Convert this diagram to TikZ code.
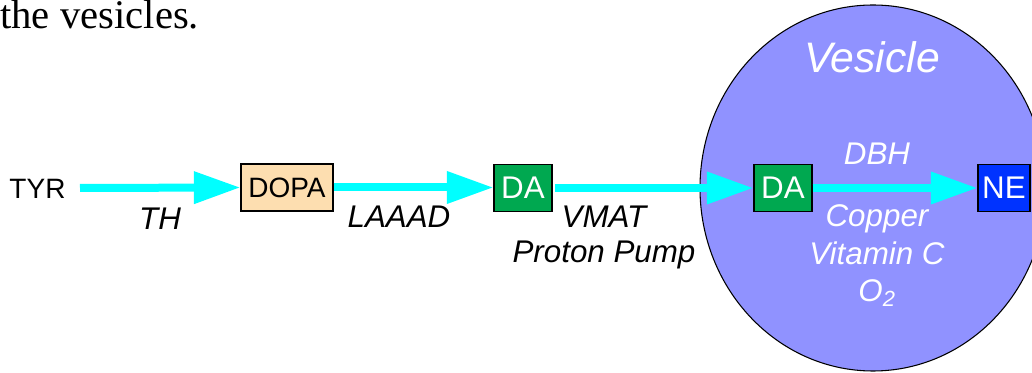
\documentclass[tikz,border=0pt]{standalone}
\usepackage{fontspec}
\setmainfont{Liberation Sans}
\newfontfamily\serifface{Liberation Serif}
\usetikzlibrary{arrows.meta,shapes.geometric}
\definecolor{arrowcyan}{RGB}{0,255,255}
\definecolor{vesfill}{RGB}{144,146,255}
\definecolor{dagreen}{RGB}{0,168,80}
\definecolor{neblue}{RGB}{0,51,255}
\definecolor{dopafill}{RGB}{253,222,176}
\tikzset{
  flow/.style={draw=arrowcyan, line width=6pt,
    -{Triangle[length=35pt,width=23pt]}, arrowcyan},
  box/.style={draw=black, line width=0.8pt, minimum height=35.25pt,
    inner sep=0pt, font=\fontsize{21}{25}\selectfont},
  bigbox/.style={box, text=white, font=\fontsize{23.5}{27}\selectfont},
  plain/.style={font=\fontsize{21}{25}\selectfont, inner sep=0pt},
  lbl/.style={font=\fontsize{23.5}{27}\selectfont\itshape, inner sep=0pt, anchor=base},
  wlbl/.style={lbl, text=white},
}
\begin{document}
\begin{tikzpicture}[x=0.75pt,y=-0.75pt]
\useasboundingbox (0,0) rectangle (1032,373);
% vesicle
\node[draw=black, line width=0.8pt, fill=vesfill, ellipse, minimum width=259.5pt, minimum height=274.5pt, inner sep=0pt] (ves) at (873,188) {};
\node[font=\fontsize{30.5}{36}\selectfont\serifface, anchor=base west, inner sep=0pt] (title) at (0,29) {the vesicles.};
\node[plain, anchor=base] (tyr) at (37.5,199) {TYR};
\node[box, fill=dopafill, minimum width=69pt] (dopa) at (287,187.5) {DOPA};
\node[bigbox, fill=dagreen, minimum width=43.5pt] (da1) at (523,188) {DA};
\node[bigbox, fill=dagreen, minimum width=43.5pt] (da2) at (783,188) {DA};
\node[bigbox, fill=neblue, minimum width=39pt] (ne) at (1004,188) {NE};
\coordinate (tyrend) at (80,188);
\draw[flow] (tyrend) -- (dopa.west);
\draw[flow] (dopa.east) -- (dopa.east -| da1.west);
\draw[flow] ([xshift=2pt]da1.east) -- (da2.west);
\draw[flow] (da2.east) -- (ne.west);
\node[lbl] (th) at (160,230) {TH};
\node[lbl] (laaad) at (399,228) {LAAAD};
\node[lbl] (vmat) at (604,228) {VMAT};
\node[lbl] (pp) at (604,263) {Proton Pump};
\node[wlbl, font=\fontsize{32}{38}\selectfont\itshape] (vestxt) at (872,73) {Vesicle};
\node[wlbl] (dbh) at (877,165) {DBH};
\node[wlbl] (cu) at (877,227) {Copper};
\node[wlbl] (vitc) at (877,265) {Vitamin C};
\node[wlbl] (o2) at (877,302) {O\textsubscript{2}};
\end{tikzpicture}
\end{document}
